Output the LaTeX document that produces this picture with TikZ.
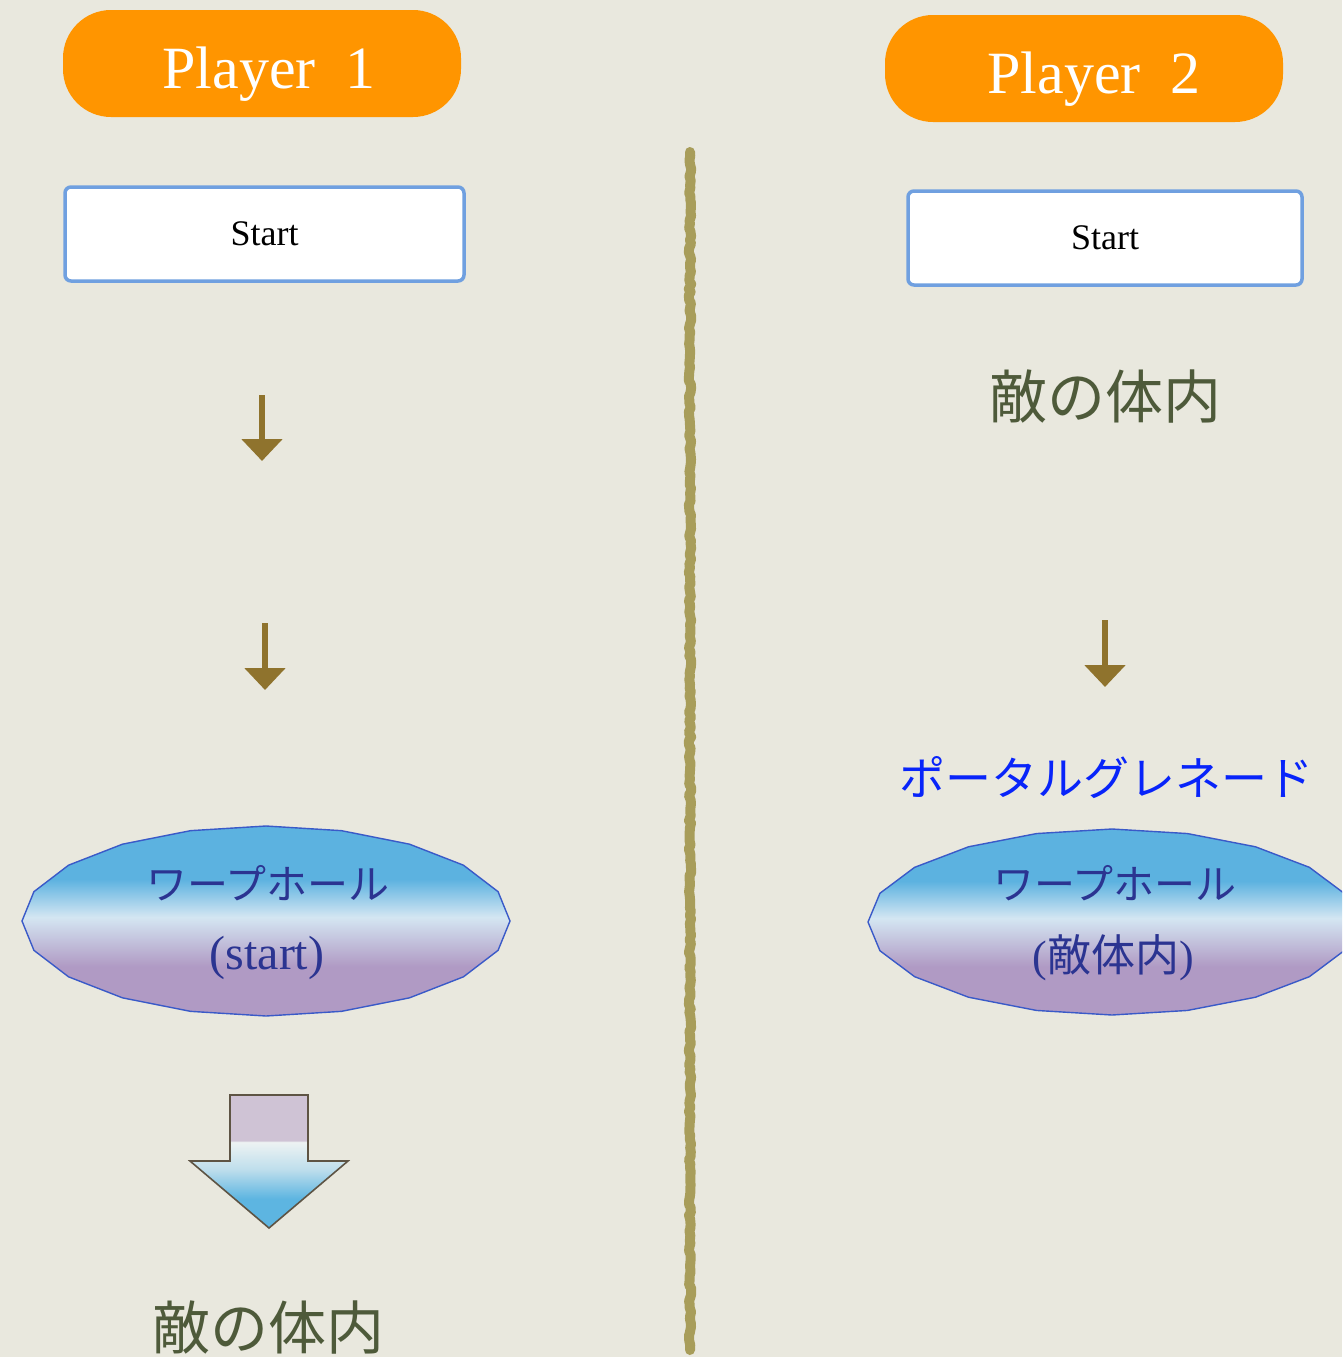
\documentclass[tikz,border=0pt]{standalone}
\usepackage{fontspec}
\setmainfont{Liberation Serif}
\newfontfamily\jp{Noto Sans CJK JP}
\usetikzlibrary{arrows.meta,decorations.pathmorphing}
\definecolor{bg}{RGB}{233,232,222}
\definecolor{orng}{RGB}{255,149,0}
\definecolor{startborder}{RGB}{112,160,224}
\definecolor{olive}{RGB}{78,90,58}
\definecolor{brownarrow}{RGB}{143,115,45}
\definecolor{divcol}{RGB}{168,157,90}
\definecolor{portal}{RGB}{8,36,250}
\definecolor{warptext}{RGB}{43,52,145}
\definecolor{wborder}{RGB}{58,90,200}
\definecolor{wblue}{RGB}{92,178,224}
\definecolor{wlight}{RGB}{212,230,242}
\definecolor{wpurp}{RGB}{176,154,196}
\definecolor{ablue}{RGB}{93,181,225}
\definecolor{alight}{RGB}{190,222,236}
\definecolor{awhite}{RGB}{238,243,243}
\definecolor{apurp}{RGB}{207,195,213}
\definecolor{aborder}{RGB}{94,84,68}
\pgfdeclareverticalshading{warpshade}{100bp}{color(0bp)=(wpurp); color(38bp)=(wpurp); color(51bp)=(wlight); color(61bp)=(wblue); color(100bp)=(wblue)}
\pgfdeclareverticalshading{bigarrowshade}{100bp}{color(0bp)=(ablue); color(36bp)=(ablue); color(47bp)=(alight); color(57.4bp)=(awhite); color(57.8bp)=(apurp); color(100bp)=(apurp)}
\tikzset{
  playerbox/.style={fill=orng, rounded corners=48pt, minimum width=398pt, minimum height=107pt,
    text=white, font=\fontsize{60}{64}\selectfont, inner sep=0pt, text height=54pt, text depth=5pt},
  startbox/.style={fill=white, draw=startborder, line width=3.5pt, rounded corners=6pt,
    minimum height=94pt, inner sep=0pt, font=\fontsize{36}{40}\selectfont},
  bodytext/.style={text=olive, font=\jp\fontsize{58}{62}\selectfont, inner sep=0pt},
  smallarrow/.style={draw=brownarrow, line width=6pt, -{Triangle[width=40pt,length=22pt]}},
  warp/.style={shading=warpshade, draw=wborder, line width=1.4pt},
  warptxt/.style={text=warptext, inner sep=0pt},
  divider/.style={draw=divcol, line join=round, line cap=round, decorate,
    decoration={random steps, segment length=4pt, amplitude=1.2pt}}
}
\begin{document}
\begin{tikzpicture}[x=1pt,y=-1pt]
\useasboundingbox (0,0) rectangle (1342,1357);
\clip (0,0) rectangle (1342,1357);
\fill[bg] (0,0) rectangle (1342,1357);

% divider
\pgfmathsetseed{7}
\coordinate (divtop) at (690,152);
\coordinate (divbot) at (690,1350);
\draw[divider, line width=10pt] (divtop) -- (divbot);
\draw[divider, line width=4pt, xshift=-4pt] (divtop) -- (divbot);
\draw[divider, line width=4pt, xshift=4pt] (divtop) -- (divbot);

% Player 1 column
\node[playerbox] (p1) at (262,63.5) {\hspace*{14pt}Player\hspace{0.5em}1};
\node[startbox, minimum width=399pt] (s1) at (264.5,234) {Start};
\coordinate (a1s) at (262,395);
\coordinate (a1e) at (262,461);
\draw[smallarrow] (a1s) -- (a1e);
\coordinate (a2s) at (265,623);
\coordinate (a2e) at (265,690);
\draw[smallarrow] (a2s) -- (a2e);

\shadedraw[warp] plot[domain=0:360, samples=21] ({266+244*cos(\x)},{921+95*sin(\x)}) -- cycle;
\node[warptxt, font=\jp\fontsize{41}{44}\selectfont] (w1a) at (268,883) {ワープホール};
\node[warptxt, font=\fontsize{48}{52}\selectfont] (w1b) at (267,958) {(start)};

\coordinate (ba1) at (230,1095);
\coordinate (ba2) at (308,1095);
\coordinate (ba3) at (308,1161);
\coordinate (ba4) at (348,1161);
\coordinate (ba5) at (269,1228);
\coordinate (ba6) at (190,1161);
\coordinate (ba7) at (230,1161);
\shadedraw[shading=bigarrowshade, draw=aborder, line width=1.6pt, line join=miter]
  (ba1) -- (ba2) -- (ba3) -- (ba4) -- (ba5) -- (ba6) -- (ba7) -- cycle;
\node[bodytext] (enemy1) at (268,1328) {敵の体内};

% Player 2 column
\node[playerbox] (p2) at (1084,68.5) {\hspace*{20pt}Player\hspace{0.5em}2};
\node[startbox, minimum width=394pt] (s2) at (1105,238) {Start};
\node[bodytext] (enemy2) at (1105,397) {敵の体内};
\coordinate (a3s) at (1105,620);
\coordinate (a3e) at (1105,687);
\draw[smallarrow] (a3s) -- (a3e);
\node[text=portal, font=\jp\fontsize{46}{50}\selectfont, inner sep=0pt] (portal) at (1106,778) {ポータルグレネード};

\shadedraw[warp] plot[domain=0:360, samples=21] ({1112+244*cos(\x)},{922+93*sin(\x)}) -- cycle;
\node[warptxt, font=\jp\fontsize{41}{44}\selectfont] (w2a) at (1115,883) {ワープホール};
\node[warptxt, font=\fontsize{44}{48}\selectfont] (w2b) at (1113,958) {(\jp 敵体内\rmfamily)};
\end{tikzpicture}
\end{document}
